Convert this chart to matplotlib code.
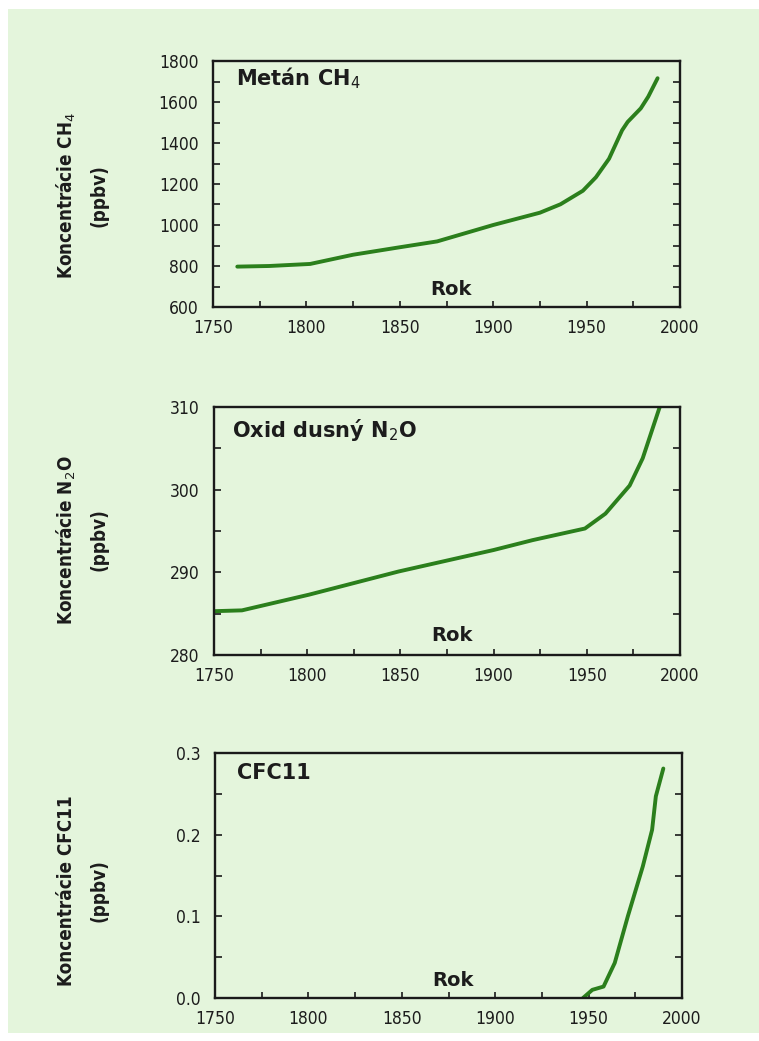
import matplotlib
matplotlib.use("Agg")
import matplotlib.pyplot as plt
from matplotlib.ticker import MultipleLocator
from matplotlib.patches import Rectangle

# ---- data ----
ch4_years = [1763, 1780, 1802, 1825, 1849, 1870, 1900, 1925, 1936, 1948, 1955, 1962, 1969, 1972, 1979, 1983, 1988]
ch4_vals = [797, 800, 810, 855, 890, 920, 1000, 1060, 1101, 1167, 1233, 1323, 1462, 1503, 1569, 1626, 1716]

n2o_years = [1750, 1765, 1801, 1849, 1900, 1921, 1949, 1960, 1973, 1980, 1990]
n2o_vals = [285.3, 285.4, 287.3, 290.1, 292.7, 293.9, 295.3, 297.1, 300.5, 303.8, 310.6]

cfc_years = [1947, 1952, 1958, 1964, 1971, 1979, 1984, 1986, 1990]
cfc_vals = [0.0, 0.01, 0.014, 0.043, 0.10, 0.161, 0.206, 0.247, 0.281]

titles = ["Metán CH$_4$", "Oxid dusný N$_2$O", "CFC11"]
ylab1 = ["Koncentrácie CH$_4$", "Koncentrácie N$_2$O", "Koncentrácie CFC11"]
ylab2 = ["(ppbv)", "(ppbv)", "(ppbv)"]
ylims = [(600, 1800), (280, 310), (0.0, 0.3)]
ymajor = [200, 10, 0.1]
yminor = [100, 5, 0.05]
yfmt = ["{:.0f}", "{:.0f}", "{:.1f}"]

W, H = 759, 1041
BG = "#e4f5dc"
LINE = "#2b7f1c"
TXT = "#1c1c1c"

fig = plt.figure(figsize=(W / 100, H / 100), dpi=100, facecolor="white")
fig.patches.append(Rectangle((8 / W, 1 - 1033 / H), 1 - 8 / W, (1033 - 9) / H,
                             transform=fig.transFigure, facecolor=BG, edgecolor="none", zorder=-10))

boxes = [(61, 307, 213, 680), (407, 655, 214, 680), (753, 998, 215, 682)]
series = [(ch4_years, ch4_vals), (n2o_years, n2o_vals), (cfc_years, cfc_vals)]
title_pos = [(0.049, 0.932), (0.039, 0.907), (0.047, 0.918)]
rok_y = [0.071, 0.08, 0.073]
lab_y = [0.455, 0.464, 0.437]

for i, (top, bot, l, r) in enumerate(boxes):
    ax = fig.add_axes([l / W, 1 - bot / H, (r - l) / W, (bot - top) / H])
    ax.set_facecolor(BG)
    xs, ys = series[i]
    ax.plot(xs, ys, color=LINE, lw=2.8, solid_capstyle="round", solid_joinstyle="round", clip_on=True)
    ax.set_xlim(1750, 2000)
    ax.set_ylim(*ylims[i])
    ax.xaxis.set_major_locator(MultipleLocator(50))
    ax.xaxis.set_minor_locator(MultipleLocator(25))
    ax.yaxis.set_major_locator(MultipleLocator(ymajor[i]))
    ax.yaxis.set_minor_locator(MultipleLocator(yminor[i]))
    f = yfmt[i]
    ax.yaxis.set_major_formatter(plt.FuncFormatter(lambda v, p, f=f: f.format(v)))
    for s in ax.spines.values():
        s.set_linewidth(1.7)
        s.set_color("#1a1a1a")
    ax.tick_params(axis="y", which="both", direction="in", left=True, right=True,
                   length=5, width=1.2, color="#1a1a1a", pad=10.5, labelsize=12.5, labelcolor=TXT)
    ax.tick_params(axis="x", which="both", direction="in", bottom=True, top=False,
                   length=4, width=1.2, color="#1a1a1a", pad=8.5, labelsize=12.5, labelcolor=TXT)
    for lab in ax.get_xticklabels() + ax.get_yticklabels():
        lab.set_fontstretch("condensed")
    tx, ty = title_pos[i]
    ax.text(tx, ty, titles[i], transform=ax.transAxes, fontsize=15, fontweight="bold",
            color=TXT, ha="left", va="center")
    ax.text(0.51, rok_y[i], "Rok", transform=ax.transAxes, fontsize=14, fontweight="bold",
            color=TXT, ha="center", va="center")
    w_ax = r - l
    ax.text((66 - l) / w_ax, lab_y[i], ylab1[i], transform=ax.transAxes, rotation=90,
            fontsize=13.5, fontweight="bold", fontstretch="condensed", color=TXT,
            ha="center", va="center")
    ax.text((99 - l) / w_ax, lab_y[i], ylab2[i], transform=ax.transAxes, rotation=90,
            fontsize=13.5, fontweight="bold", fontstretch="condensed", color=TXT,
            ha="center", va="center")

fig.savefig("out.png", dpi=100, facecolor="white")
